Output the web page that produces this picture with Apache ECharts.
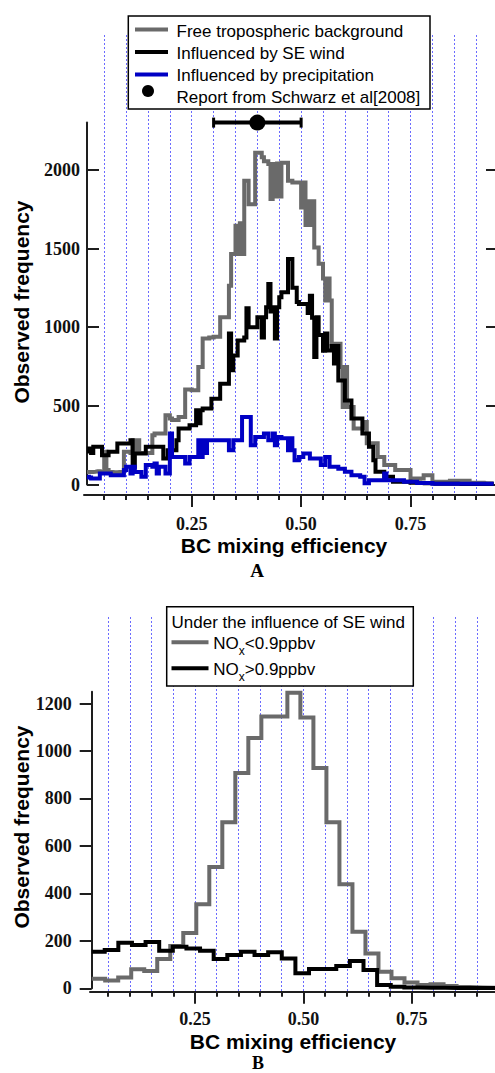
<!DOCTYPE html>
<html><head><meta charset="utf-8">
<script src="https://cdn.jsdelivr.net/npm/echarts@6/dist/echarts.min.js"></script>
<style>html,body{margin:0;padding:0;background:#fff}#c{width:495px;height:1073px}</style>
</head><body><div id="c"></div>
<script>
// ---------------- DATA ----------------
// Panel A: histogram bins (left edge start, width) and observed frequencies
const binStartA = 0.01, binWidthA = 0.005;
const freeTropo = [
  80,80, 80,82, 85,85, 80,80, 208,92, 80,80, 78,78, 80,80, 82,208,
  208,208, 200,282, 200,282, 200,200, 200,200, 200,200, 314,324, 324,324, 324,324, 440,440,
  420,410, 410,410, 430,430, 430,605, 605,605, 600,600, 600,747, 747,928, 928,928, 935,935,
  940,940, 940,1063, 1063,1063, 1063,1264, 1465,1465, 1645,1465, 1660,1465, 1930,1930, 1782,1782, 1782,2109,
  2109,2109, 2080,2055, 2055,2037, 1815,2037, 1830,2040, 1830,2045, 2045,2045, 1930,1930, 1920,1920, 1920,1920,
  1760,1920, 1650,1800, 1650,1800, 1507,1507, 1403,1403, 1310,1170, 1310,1170, 895,895, 895,895, 747,493,
  747,493, 493,493, 356,356, 356,356, 356,398, 263,263, 263,263, 263,176, 176,176, 124,124,
  124,124, 124,92, 92,92, 92,92, 92,92, 39,39, 39,39, 39,39, 60,60, 60,60,
  18,18, 18,18, 18,18, 18,18, 25,25, 25,25, 25,25, 25,25, 25,12, 12,12,
  12,12, 12,12, 8,8, 8,8];
const seWind = [
  210,230, 200,240, 240,240, 240,187, 187,187, 208,208, 208,208, 261,261, 261,261,
  261,261, 282,113, 198,198, 198,198, 198,240, 240,240, 240,240, 240,240, 240,166, 166,219,
  219,219, 219,282, 356,356, 356,356, 356,377, 377,377, 472,390, 472,483, 483,483, 483,546,
  546,546, 546,641, 641,641, 641,960, 726,821, 821,916, 916,916, 935,1120, 1000,1000, 1000,1000,
  1063,1063, 935,1063, 1127,1275, 1100,1127, 928,1127, 1190,1222, 1222,1222, 1433,1433, 1250,1250, 1160,1148,
  1148,1148, 1148,1090, 1200,1060, 810,1063, 950,950, 850,960, 852,852, 880,770, 880,662, 662,662,
  535,535, 535,420, 420,420, 420,420, 325,325, 325,240, 240,155, 81,81, 81,81, 50,50,
  50,50, 18,18, 18,18, 18,18, 18,18, 12,12, 12,12, 12,8, 8,8, 8,8,
  6,6, 6,6, 5,5, 5,5, 5,5, 5,5, 4,4, 4,4, 4,4, 4,4,
  4,4, 4,4, 4,4, 4,4];
const precip = [
  50,45, 39,39, 39,39, 71,71, 71,71, 71,60, 60,60, 60,60, 60,92,
  113,113, 71,113, 80,80, 80,50, 50,124, 124,124, 113,134, 71,113, 113,113, 71,71,
  324,176, 176,176, 176,176, 176,134, 134,176, 176,176, 176,282, 176,282, 200,282, 282,282,
  282,282, 282,282, 282,282, 282,219, 219,282, 282,282, 282,430, 430,430, 430,250, 250,303,
  303,303, 303,324, 324,282, 282,324, 250,303, 303,295, 295,295, 218,295, 218,155, 155,176,
  176,198, 198,198, 166,166, 166,166, 166,124, 124,176, 176,113, 113,113, 113,100, 100,100,
  81,81, 81,60, 60,60, 60,50, 50,8, 8,28, 28,28, 28,28, 28,28, 71,28,
  28,28, 28,28, 28,28, 28,18, 18,18, 18,18, 18,10, 10,10, 10,10, 10,10,
  5,5, 5,5, 5,5, 5,5, 5,5, 5,5, 5,5, 5,5, 5,5, 5,5,
  5,5, 5,5, 5,5, 5,5];
// Schwarz et al. [2008]: low, centre, high of mixing efficiency, drawn at frequency level
const schwarzRange = [0.30, 0.40, 0.50];
const schwarzLevel = 2300;

// Panel B
const binStartLow = -0.017, binWidthLow = 0.03;
const noxLow = [40,40,33,45,80,73,124,178,233,354,511,700,907,1055,1145,1145,
  1246,1141,928,700,438,238,147,70,42,24,14,17,10,5,3,2];
const binStartHigh = 0.0105, binWidthHigh = 0.0314;
const noxHigh = [154,161,192,182,195,158,175,168,158,123,140,154,140,152,126,63,
  81,81,94,115,77,14,7,3,2,2,1,1,1,1];

// Tick values
const xMinorTicks = [0.05,0.10,0.15,0.20,0.25,0.30,0.35,0.40,0.45,0.50,0.55,0.60,0.65,0.70,0.75,0.80,0.85,0.90];
const xMajorTicks = [0.25,0.50,0.75];
const yTicksA = [0,500,1000,1500,2000];
const yTicksB = [0,200,400,600,800,1000,1200];

// ---------------- LAYOUT ----------------
const SANS = '"Liberation Sans", Arial, sans-serif';
const SERIF = '"Liberation Serif", "Times New Roman", serif';
const R = 498;                       // right edge of plot frames
const x0A = 82.3, kA = 440.8;        // pixel of x=0 and px per unit, panel A
const x0B = 86.5, kB = 437;          // panel B
const AX = '#1e1e1e';
const GRIDC = '#6b6bff';

function range(left, x0, k){ return {min:(left-x0)/k, max:(R-x0)/k}; }

function histo(start, width, vals, lo, hi){
  const pts = [];
  let last = null;
  vals.forEach((v,i)=>{
    const a = start + i*width, b = a + width;
    if (b <= lo || a >= hi) return;
    pts.push([Math.max(a, lo), v]);
    last = [Math.min(b, hi), v];
  });
  if (last) pts.push(last);
  return pts;
}

const gridsSpec = [
  {left:x0A, top:35, height:458},        // 0 A dotted lines
  {left:84,  top:35, height:460},        // 1 A x axis minor
  {left:84,  top:35, height:460},        // 2 A x axis major
  {left:87,  top:122.6, height:362},     // 3 A data
  {left:x0B, top:617, height:374.7},     // 4 B dotted lines
  {left:90,  top:617, height:374.7},     // 5 B x axis minor
  {left:90,  top:617, height:374.7},     // 6 B x axis major
  {left:91.7,top:691.7, height:296.6}    // 7 B data
];
const grid = gridsSpec.map(g=>({left:g.left, top:g.top, width:R-g.left, height:g.height, containLabel:false}));
const x0s = [x0A,x0A,x0A,x0A,x0B,x0B,x0B,x0B];
const ks  = [kA,kA,kA,kA,kB,kB,kB,kB];

const tickLabelStyle = {fontFamily:SERIF, fontWeight:'bold', fontSize:18, color:'#111'};

const xAxis = gridsSpec.map((g,i)=>{
  const r = range(g.left, x0s[i], ks[i]);
  const base = {gridIndex:i, type:'value', min:r.min, max:r.max, position:'bottom',
    axisLine:{show:false, onZero:false}, axisTick:{show:false}, axisLabel:{show:false}, splitLine:{show:false}};
  if (i===0 || i===4){
    base.min = 0; base.interval = 0.05;
    base.splitLine = {show:true, showMinLine:false, showMaxLine:false,
      lineStyle:{color:GRIDC, width:1, type:[2,2]}};
  } else if (i===1 || i===5){
    base.axisLine = {show:true, onZero:false, lineStyle:{color:AX, width:2}};
    base.axisTick = {show:true, length:5, customValues:xMinorTicks, lineStyle:{color:AX, width:2}};
  } else if (i===2 || i===6){
    base.axisTick = {show:true, length:12, customValues:xMajorTicks, lineStyle:{color:AX, width:2}};
    base.axisLabel = Object.assign({show:true, customValues:xMajorTicks, margin:(i===2?20:18),
      formatter:v=>v.toFixed(2)}, tickLabelStyle);
  }
  return base;
});

const plain = v => String(Math.round(v));
const yAxis = gridsSpec.map((g,i)=>({gridIndex:i, type:'value', show:false, min:0, max:1}));
yAxis[3] = {gridIndex:3, type:'value', min:0, max:2300, position:'left',
  axisLine:{show:true, onZero:false, lineStyle:{color:AX, width:2}},
  axisTick:{show:true, inside:true, length:12, customValues:yTicksA, lineStyle:{color:AX, width:2}},
  axisLabel:Object.assign({show:true, customValues:yTicksA, margin:7, formatter:plain}, tickLabelStyle),
  splitLine:{show:false}};
yAxis[7] = {gridIndex:7, type:'value', min:0, max:1250, position:'left',
  axisLine:{show:true, onZero:false, lineStyle:{color:AX, width:2}},
  axisTick:{show:true, inside:false, length:12, customValues:yTicksB, lineStyle:{color:AX, width:2}},
  axisLabel:Object.assign({show:true, customValues:yTicksB, margin:20, formatter:plain}, tickLabelStyle),
  splitLine:{show:false}};
yAxis.push({gridIndex:3, type:'value', min:0, max:2300, position:'right',
  axisLine:{show:false, onZero:false},
  axisTick:{show:true, inside:true, length:9, customValues:yTicksA, lineStyle:{color:AX, width:2}},
  axisLabel:{show:false}, splitLine:{show:false}});

const rA = range(87, x0A, kA), rB = range(91.7, x0B, kB);
function stepSeries(name, data, xi, yi, color, z){
  return {name, type:'line', step:'end', xAxisIndex:xi, yAxisIndex:yi, data, clip:false,
    showSymbol:false, symbol:'none', z, animation:false,
    lineStyle:{color, width:4, join:'miter'}};
}

const series = [
  stepSeries('Free tropospheric background', histo(binStartA, binWidthA, freeTropo, rA.min, rA.max), 3, 3, '#6a6a6a', 2),
  stepSeries('Influenced by SE wind', histo(binStartA, binWidthA, seWind, rA.min, rA.max), 3, 3, '#000000', 3),
  stepSeries('Influenced by precipitation', histo(binStartA, binWidthA, precip, rA.min, rA.max), 3, 3, '#0000c4', 4),
  {name:'Report from Schwarz et al[2008]', type:'custom', xAxisIndex:3, yAxisIndex:3, clip:false, z:6,
    encode:{x:[0,1,2], y:3}, animation:false,
    data:[[schwarzRange[0], schwarzRange[1], schwarzRange[2], schwarzLevel]],
    renderItem:(p, api)=>{
      const lo = api.coord([api.value(0), api.value(3)]);
      const md = api.coord([api.value(1), api.value(3)]);
      const hi = api.coord([api.value(2), api.value(3)]);
      return {type:'group', children:[
        {type:'line', shape:{x1:lo[0], y1:lo[1], x2:hi[0], y2:hi[1]}, style:{stroke:'#000', lineWidth:4}},
        {type:'line', shape:{x1:lo[0], y1:lo[1]-5, x2:lo[0], y2:lo[1]+5}, style:{stroke:'#000', lineWidth:3}},
        {type:'line', shape:{x1:hi[0], y1:hi[1]-5, x2:hi[0], y2:hi[1]+5}, style:{stroke:'#000', lineWidth:3}},
        {type:'circle', shape:{cx:md[0], cy:md[1], r:8}, style:{fill:'#000'}}
      ]};
    }},
  stepSeries('NOx<0.9ppbv', histo(binStartLow, binWidthLow, noxLow, rB.min, rB.max), 7, 7, '#6a6a6a', 2),
  stepSeries('NOx>0.9ppbv', histo(binStartHigh, binWidthHigh, noxHigh, rB.min, rB.max), 7, 7, '#000000', 3)
];

const txt = (x, y, text, extra) => ({type:'text', x, y, z:100,
  style:Object.assign({text, fontFamily:SANS, fontSize:17, fill:'#000', align:'left', verticalAlign:'middle'}, extra||{})});
const seg = (x1, x2, y, color) => ({type:'line', z:100, shape:{x1, y1:y, x2, y2:y}, style:{stroke:color, lineWidth:4}});

const noxRich = {
  a:{fontFamily:SANS, fontSize:17, lineHeight:20, verticalAlign:'top'},
  s:{fontFamily:SANS, fontSize:12, lineHeight:12, padding:[10,0,0,0], verticalAlign:'top'}
};

const graphic = [
  // Panel A legend
  {type:'rect', z:99, shape:{x:128.3, y:16, width:301.7, height:93}, style:{fill:'#fff', stroke:'#000', lineWidth:1.5}},
  seg(135, 168, 29.5, '#6a6a6a'), txt(176.5, 31.5, series[0].name),
  seg(135, 168, 52, '#000'), txt(176.5, 53.5, series[1].name),
  seg(135, 168, 74.5, '#0000c4'), txt(176.5, 75.5, series[2].name),
  {type:'circle', z:100, shape:{cx:148, cy:91, r:6}, style:{fill:'#000'}},
  txt(176.5, 97, 'Report from Schwarz et al[2008]'),
  // Panel A titles
  txt(21, 302, 'Observed frequency', {fontSize:21, fontWeight:'bold', align:'center'}),
  txt(284, 545, 'BC mixing efficiency', {fontSize:21, fontWeight:'bold', align:'center'}),
  txt(257, 570, 'A', {fontFamily:SERIF, fontSize:19, fontWeight:'bold', align:'center'}),
  // Panel B legend
  {type:'rect', z:99, shape:{x:166.7, y:606.7, width:246.6, height:79.3}, style:{fill:'#fff', stroke:'#000', lineWidth:1.5}},
  txt(171.5, 622, 'Under the influence of SE wind'),
  seg(171.5, 208.5, 642.3, '#6a6a6a'),
  {type:'text', x:213.3, y:645, z:100, style:{text:'{a|NO}{s|x}{a|<0.9ppbv}', rich:noxRich, fill:'#000', align:'left', verticalAlign:'middle'}},
  seg(171.5, 208.5, 668.3, '#000'),
  {type:'text', x:213.3, y:671, z:100, style:{text:'{a|NO}{s|x}{a|>0.9ppbv}', rich:noxRich, fill:'#000', align:'left', verticalAlign:'middle'}},
  // Panel B titles
  txt(21, 827, 'Observed frequency', {fontSize:21, fontWeight:'bold', align:'center'}),
  txt(293, 1041, 'BC mixing efficiency', {fontSize:21, fontWeight:'bold', align:'center'}),
  txt(258, 1063, 'B', {fontFamily:SERIF, fontSize:18, fontWeight:'bold', align:'center'})
];
graphic.filter(g=>g.type==='text' && (g.style.text==='Observed frequency')).forEach(g=>{g.rotation=Math.PI/2;});

const chart = echarts.init(document.getElementById('c'), null, {renderer:'svg', width:495, height:1073});
chart.setOption({animation:false, backgroundColor:'#fff', grid, xAxis, yAxis, series, graphic});
</script></body></html>
